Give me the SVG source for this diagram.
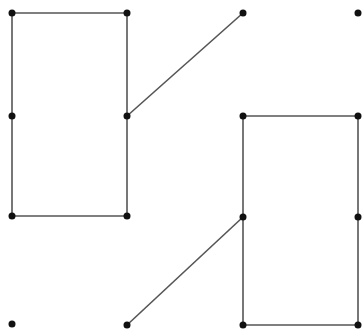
<svg xmlns="http://www.w3.org/2000/svg" width="363" height="336" viewBox="0 0 363 336">
<style>
.e{stroke:#555;stroke-width:1.6;fill:none}
.n{fill:#111}
</style>
<rect width="363" height="336" fill="#fff"/>
<g id="connectors">
<line class="e" x1="12" y1="13" x2="127" y2="13"/>
<line class="e" x1="12" y1="13" x2="12" y2="116"/>
<line class="e" x1="12" y1="116" x2="12" y2="216"/>
<line class="e" x1="127" y1="13" x2="127" y2="116"/>
<line class="e" x1="127" y1="116" x2="127" y2="216"/>
<line class="e" x1="12" y1="216" x2="127" y2="216"/>
<line class="e" x1="127" y1="116" x2="243" y2="13"/>
<line class="e" x1="243" y1="116" x2="358" y2="116"/>
<line class="e" x1="243" y1="116" x2="243" y2="217"/>
<line class="e" x1="243" y1="217" x2="243" y2="325"/>
<line class="e" x1="358" y1="116" x2="358" y2="217"/>
<line class="e" x1="358" y1="217" x2="358" y2="325"/>
<line class="e" x1="243" y1="325" x2="358" y2="325"/>
<line class="e" x1="127" y1="325" x2="243" y2="217"/>
</g>
<g id="n1"><circle class="n" cx="12" cy="13" r="3.5"/></g>
<g id="n2"><circle class="n" cx="127" cy="13" r="3.5"/></g>
<g id="n3"><circle class="n" cx="243" cy="13" r="3.5"/></g>
<g id="n4"><circle class="n" cx="358" cy="13" r="3.5"/></g>
<g id="n5"><circle class="n" cx="12" cy="116" r="3.5"/></g>
<g id="n6"><circle class="n" cx="127" cy="116" r="3.5"/></g>
<g id="n7"><circle class="n" cx="243" cy="116" r="3.5"/></g>
<g id="n8"><circle class="n" cx="358" cy="116" r="3.5"/></g>
<g id="n9"><circle class="n" cx="12" cy="216" r="3.5"/></g>
<g id="n10"><circle class="n" cx="127" cy="216" r="3.5"/></g>
<g id="n11"><circle class="n" cx="243" cy="217" r="3.5"/></g>
<g id="n12"><circle class="n" cx="358" cy="217" r="3.5"/></g>
<g id="n13"><circle class="n" cx="12" cy="324" r="3.5"/></g>
<g id="n14"><circle class="n" cx="127" cy="325" r="3.5"/></g>
<g id="n15"><circle class="n" cx="243" cy="325" r="3.5"/></g>
<g id="n16"><circle class="n" cx="358" cy="325" r="3.5"/></g>
</svg>
